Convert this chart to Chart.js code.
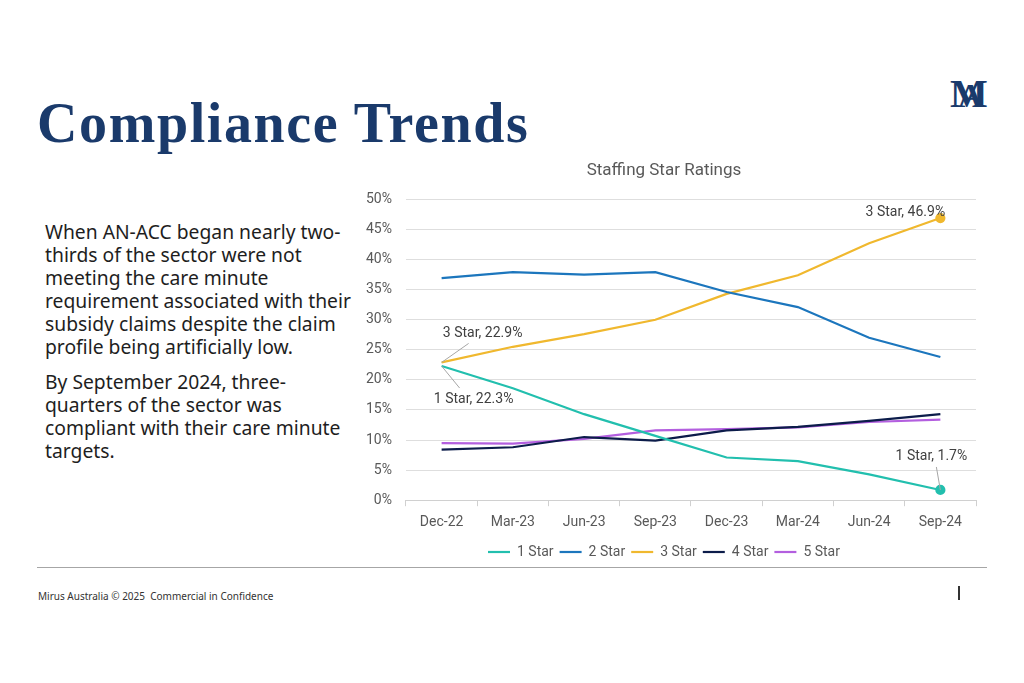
<!DOCTYPE html>
<html>
<head>
<meta charset="utf-8">
<script src="https://cdn.jsdelivr.net/npm/chart.js@4.4.1/dist/chart.umd.min.js"></script>
<style>
  html, body { margin: 0; padding: 0; background: #fff; }
  body { width: 1024px; height: 683px; position: relative; overflow: hidden; font-family: "Noto Sans", sans-serif; }
  #title { position: absolute; left: 37px; top: 91px; font-family: "Liberation Serif", serif; font-weight: bold; font-size: 56px; color: #1a3a6b; letter-spacing: 1.6px; }
  #logo { position: absolute; left: 950px; top: 72px; width: 44px; height: 42px; font-family: "Liberation Serif", serif; font-weight: bold; color: #1a3a6b; }
  #logo span { position: absolute; font-size: 40px; line-height: 40px; }
  #body { position: absolute; left: 45px; top: 220px; width: 312px; font-size: 19.3px; line-height: 23px; color: #1e1e1e; }
  #body p { margin: 0 0 12px 0; }
  #rule { position: absolute; left: 37px; top: 567px; width: 950px; height: 1px; background: #a6a6a6; }
  #foot { position: absolute; left: 38px; top: 589px; font-size: 10px; color: #333; }
  #bar { position: absolute; left: 958px; top: 586px; width: 1.5px; height: 14px; background: #333; }
  #wrap { position: absolute; left: 352px; top: 159px; width: 638px; height: 410px; }
</style>
</head>
<body>
<div id="title">Compliance Trends</div>
<div id="logo"><span style="left:0;top:2px;">M</span><span style="left:8px;top:4px;font-size:34px;">A</span></div>
<div id="body">
  <p>When AN-ACC began nearly two-thirds of the sector were not meeting the care minute requirement associated with their subsidy claims despite the claim profile being artificially low.</p>
  <p>By September 2024, three-quarters of the sector was compliant with their care minute targets.</p>
</div>
<div id="rule"></div>
<div id="foot">Mirus Australia © 2025&nbsp; Commercial in Confidence</div>
<div id="bar"></div>
<div id="wrap"><canvas id="chart"></canvas></div>
<script>
const quarters = ['Dec-22', 'Mar-23', 'Jun-23', 'Sep-23', 'Dec-23', 'Mar-24', 'Jun-24', 'Sep-24'];
const star1 = [22.3, 18.6, 14.3, 10.7, 7.1, 6.5, 4.3, 1.7];
const star2 = [36.9, 37.9, 37.5, 37.9, 34.6, 32.1, 27.0, 23.8];
const star3 = [22.9, 25.5, 27.6, 30.0, 34.3, 37.4, 42.7, 46.9];
const star4 = [8.4, 8.8, 10.5, 9.9, 11.6, 12.2, 13.2, 14.3];
const star5 = [9.5, 9.4, 10.2, 11.6, 11.8, 12.1, 13.0, 13.4];
const yTicks = [0, 5, 10, 15, 20, 25, 30, 35, 40, 45, 50];

// labels drawn next to points: [dataset, index, text, dx, dy, leader]
const callouts = [
  [2, 0, '3 Star, 22.9%', 41, -29, true],
  [0, 0, '1 Star, 22.3%', 32, 33, true],
  [2, 7, '3 Star, 46.9%', -35, -6, false],
  [0, 7, '1 Star, 1.7%', -9, -33, true]
];

const lastDot = (ctx) => ctx.dataIndex === quarters.length - 1 ? 4 : 0;

const calloutPlugin = {
  id: 'callouts',
  afterDatasetsDraw(chart) {
    const { ctx } = chart;
    ctx.save();
    ctx.font = '14px Roboto';
    ctx.fillStyle = '#404040';
    ctx.textAlign = 'center';
    ctx.textBaseline = 'middle';
    callouts.forEach(([ds, i, text, dx, dy, leader]) => {
      const pt = chart.getDatasetMeta(ds).data[i];
      const tx = pt.x + dx, ty = pt.y + dy;
      if (leader) {
        ctx.strokeStyle = '#a6a6a6';
        ctx.lineWidth = 1;
        ctx.beginPath();
        ctx.moveTo(pt.x, pt.y);
        ctx.lineTo(tx + (dx > 0 ? -14 : 5), ty + (dy > 0 ? -11 : 10));
        ctx.stroke();
      }
      ctx.fillText(text, tx, ty);
    });
    ctx.restore();
  }
};

const mk = (label, data, color) => ({
  label, data,
  borderColor: color, backgroundColor: color,
  borderWidth: 2.2, tension: 0,
  pointRadius: 0, pointHoverRadius: 0
});

const sets = [
  mk('1 Star', star1, '#22bfae'),
  mk('2 Star', star2, '#1c76bd'),
  mk('3 Star', star3, '#f0b82e'),
  mk('4 Star', star4, '#0c1c4a'),
  mk('5 Star', star5, '#b35fdf')
];
sets[0].pointRadius = lastDot;
sets[2].pointRadius = lastDot;

new Chart(document.getElementById('chart'), {
  type: 'line',
  data: { labels: quarters, datasets: sets },
  plugins: [calloutPlugin],
  options: {
    responsive: true, maintainAspectRatio: false, animation: false,
    layout: { padding: { left: 0, right: 14, top: 0, bottom: 0 } },
    plugins: {
      title: { display: true, text: 'Staffing Star Ratings', color: '#595959', font: { family: 'Roboto', size: 17, weight: 'normal' }, padding: { top: 2, bottom: 18 } },
      legend: {
        position: 'bottom',
        labels: { usePointStyle: true, pointStyle: 'line', pointStyleWidth: 22, boxHeight: 2, color: '#595959', font: { family: 'Roboto', size: 14 }, padding: 6 }
      },
      tooltip: { enabled: false }
    },
    scales: {
      x: {
        offset: true,
        grid: { display: true, drawOnChartArea: false, offset: true, tickLength: 6, color: '#d0d0d0' },
        border: { display: true, color: '#d0d0d0' },
        ticks: { color: '#595959', font: { family: 'Roboto', size: 14 }, padding: 8 }
      },
      y: {
        min: 0, max: 50,
        afterBuildTicks: (axis) => { axis.ticks = yTicks.map(v => ({ value: v })); },
        grid: { color: '#dedede', drawTicks: false },
        border: { display: false },
        ticks: { color: '#595959', font: { family: 'Roboto', size: 14 }, padding: 14, callback: v => v + '%' }
      }
    }
  }
});
</script>
</body>
</html>
